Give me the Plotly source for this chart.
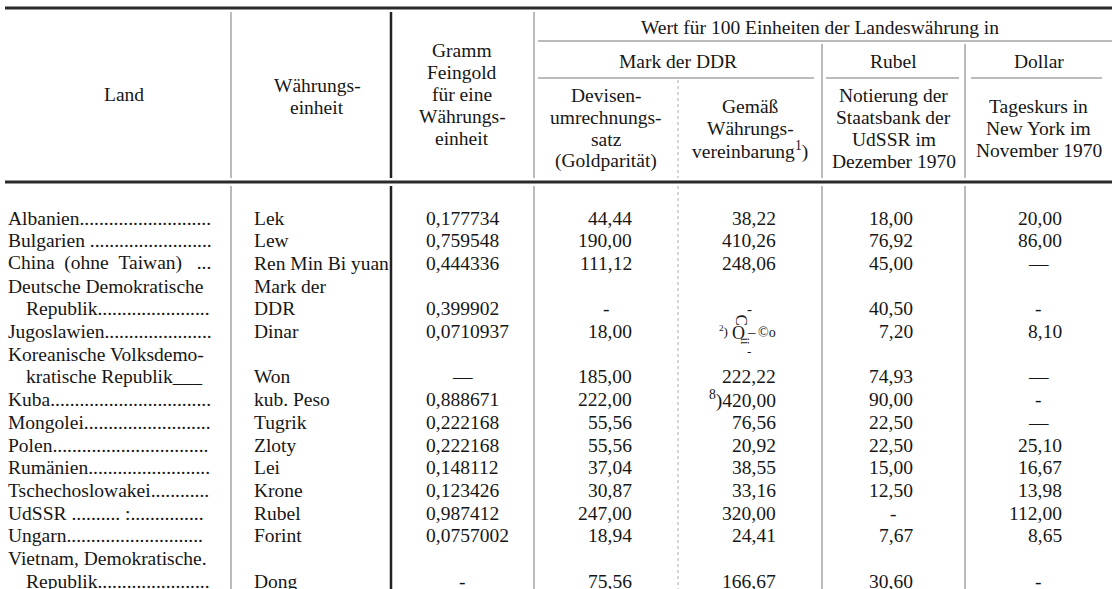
import plotly.graph_objects as go

# ---------------- data ----------------
land = [
    "Albanien" + "." * 27,
    "Bulgarien " + "." * 25,
    "China\u00a0\u00a0(ohne\u00a0\u00a0Taiwan)\u00a0\u00a0\u00a0...",
    "Deutsche Demokratische",
    "Republik" + "." * 23,
    "Jugoslawien" + "." * 22,
    "Koreanische Volksdemo-",
    "kratische Republik___",
    "Kuba" + "." * 33,
    "Mongolei" + "." * 26,
    "Polen" + "." * 32,
    "Rumänien" + "." * 25,
    "Tschechoslowakei" + "." * 12,
    "UdSSR " + "." * 10 + "\u00a0:" + "." * 15,
    "Ungarn" + "." * 28,
    "Vietnam, Demokratische.",
    "Republik" + "." * 23,
]
land_indent = [0, 0, 0, 0, 1, 0, 0, 1, 0, 0, 0, 0, 0, 0, 0, 0, 1]
waehrung = ["Lek", "Lew", "Ren Min Bi yuan", "Mark der", "DDR", "Dinar", "", "Won",
            "kub. Peso", "Tugrik", "Zloty", "Lei", "Krone", "Rubel", "Forint", "", "Dong"]
gramm = ["0,177734", "0,759548", "0,444336", "", "0,399902", "0,0710937", "", "—",
         "0,888671", "0,222168", "0,222168", "0,148112", "0,123426", "0,987412",
         "0,0757002", "", "-"]
devisen = ["44,44", "190,00", "111,12", "", "-", "18,00", "", "185,00", "222,00",
           "55,56", "55,56", "37,04", "30,87", "247,00", "18,94", "", "75,56"]
gemaess = ["38,22", "410,26", "248,06", "", "", "", "", "222,22", "<sup>8</sup>)420,00",
           "76,56", "20,92", "38,55", "33,16", "320,00", "24,41", "", "166,67"]
rubel = ["18,00", "76,92", "45,00", "", "40,50", "7,20", "", "74,93", "90,00",
         "22,50", "22,50", "15,00", "12,50", "-", "7,67", "", "30,60"]
dollar = ["20,00", "86,00", "—", "", "-", "8,10", "", "—", "-", "—",
          "25,10", "16,67", "13,98", "112,00", "8,65", "", "-"]

head_land = ["Land"]
head_waehrung = ["Währungs-", "einheit"]
head_gramm = ["Gramm", "Feingold", "für eine", "Währungs-", "einheit"]
head_top = "Wert für 100 Einheiten der Landeswährung in"
head_mid = ["Mark der DDR", "Rubel", "Dollar"]
head_devisen = ["Devisen-", "umrechnungs-", "satz", "(Goldparität)"]
head_gemaess = ["Gemäß", "Währungs-", "vereinbarung<sup>1</sup>)"]
head_rubel = ["Notierung der", "Staatsbank der", "UdSSR im", "Dezember 1970"]
head_dollar = ["Tageskurs in", "New York im", "November 1970"]

# ---------------- layout constants ----------------
W, H = 1116, 589
FONT = "Liberation Serif, Times New Roman, serif"
FS = 19.5
TXT = "#161616"
ROW_Y0, ROW_STEP = 218, 22.7
HEAD_STEP = 22
X_L, X_R = 5, 1112
VX = [231, 391, 534, 678, 822, 965]  # vertical rules

fig = go.Figure()
fig.add_trace(go.Scatter(x=[0, W], y=[0, H], mode="markers",
                         marker=dict(opacity=0), hoverinfo="skip", showlegend=False))

ann = []


def txt(x, y, s, xa="center", size=FS, angle=0):
    ann.append(dict(x=x, y=y, text=s, xref="x", yref="y", showarrow=False,
                    xanchor=xa, yanchor="middle", textangle=angle,
                    font=dict(family=FONT, size=size, color=TXT)))


def block(cx, cy, lines):
    n = len(lines)
    for i, s in enumerate(lines):
        txt(cx, cy + (i - (n - 1) / 2) * HEAD_STEP, s)


# header
block(124, 94, head_land)
block(317, 96, head_waehrung)
block(462, 94, head_gramm)
txt(820, 27, head_top)
centers_mid = [(VX[2] + VX[4]) / 2, (VX[4] + VX[5]) / 2, (VX[5] + X_R) / 2]
for cx, s in zip(centers_mid, head_mid):
    txt(cx, 61, s)
sub_c = [(VX[2] + VX[3]) / 2, (VX[3] + VX[4]) / 2, (VX[4] + VX[5]) / 2, (VX[5] + X_R) / 2]
block(sub_c[0], 128, head_devisen)
block(sub_c[1], 128, head_gemaess)
block(sub_c[2], 128, head_rubel)
block(sub_c[3], 128, head_dollar)

# body
DASHES = ("-", "—")
for i in range(len(land)):
    y = ROW_Y0 + i * ROW_STEP
    txt(6 + 18 * land_indent[i], y, land[i], xa="left")
    if waehrung[i]:
        txt(252, y, waehrung[i], xa="left")
    if gramm[i]:
        if gramm[i] in DASHES:
            txt(462, y, gramm[i])
        else:
            txt(424, y, gramm[i], xa="left")
    for col, right, cen in [(devisen, 634, sub_c[0]), (gemaess, 778, sub_c[1]),
                            (rubel, 915, sub_c[2]), (dollar, 1064, sub_c[3])]:
        v = col[i]
        if not v:
            continue
        if v in DASHES:
            txt(cen, y, v)
        else:
            txt(right, y, v, xa="right")

# damaged print in the Jugoslawien / Gemäß cell
yj = ROW_Y0 + 5 * ROW_STEP
txt(749, yj - 23, "-", size=15)
txt(741, yj - 12, "C", size=17, angle=90)
txt(723, yj - 1, "<sup>2</sup>)", size=13)
txt(738, yj + 1, "O", size=18)
txt(751, yj, "–", size=15)
txt(767, yj + 1, "©o", size=14)
txt(745, yj + 10, "ii", size=13, angle=90)
txt(749, yj + 20, "-", size=13)

shapes = []


def hline(y, x0, x1, w=1, c="#666", dash="solid"):
    shapes.append(dict(type="line", xref="x", yref="y", x0=x0, x1=x1, y0=y, y1=y,
                       line=dict(width=w, color=c, dash=dash)))


def vline(x, y0, y1, w=1, c="#777", dash="solid"):
    shapes.append(dict(type="line", xref="x", yref="y", x0=x, x1=x, y0=y0, y1=y1,
                       line=dict(width=w, color=c, dash=dash)))


hline(8, X_L, X_R, 3, "#2a2a2a")
hline(182, X_L, X_R, 3, "#2a2a2a")
hline(41, VX[2] + 4, X_R, 1, "#777")
hline(78, VX[2] + 4, VX[4] - 8, 1, "#777")
hline(78, VX[4] + 4, VX[5] - 6, 1, "#777")
hline(78, VX[5] + 6, X_R - 10, 1, "#777")

for x, w, c, top, dash in [(VX[0], 1, "#777", 12, "solid"), (VX[1], 2.5, "#222", 12, "solid"),
                           (VX[2], 1, "#777", 12, "solid"), (VX[3], 1, "#aaa", 80, "dot"),
                           (VX[4], 1, "#777", 44, "solid"), (VX[5], 1, "#777", 44, "solid")]:
    vline(x, top, 178, w, c, dash)
    vline(x, 186, H, w, c, dash)

fig.update_layout(
    width=W, height=H, margin=dict(l=0, r=0, t=0, b=0),
    paper_bgcolor="white", plot_bgcolor="white",
    xaxis=dict(range=[0, W], visible=False, fixedrange=True),
    yaxis=dict(range=[H, 0], visible=False, fixedrange=True),
    annotations=ann, shapes=shapes, showlegend=False,
)
fig.write_html(
    "out.html",
    config={"displayModeBar": False},
    post_script="document.body.style.margin='0';document.body.style.overflow='hidden';",
)
